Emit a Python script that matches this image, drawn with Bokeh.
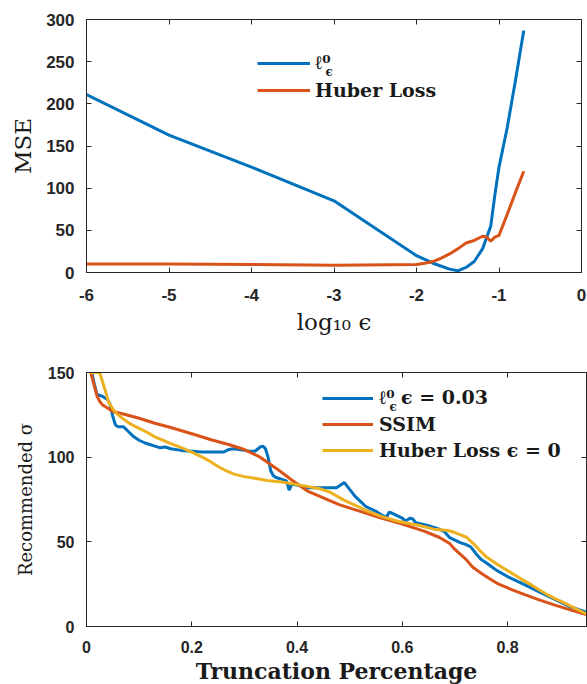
from bokeh.plotting import figure
from bokeh.layouts import column
from bokeh.models import (LinearAxis, SingleIntervalTicker, Range1d, Legend,
                          LegendItem, Label, CustomJSTickFormatter)
from bokeh.embed import file_html
from bokeh.resources import INLINE

# ---------------- data: top panel ----------------
l0_x = [-6, -5, -4, -3, -2, -1.8, -1.6, -1.5, -1.4, -1.3, -1.2, -1.1, -1.05, -1.0, -0.9, -0.8, -0.7]
l0_y = [211, 163, 125, 85, 20, 11, 4, 2, 6, 13, 28, 55, 92, 125, 172, 228, 287]

huber_x = [-6, -5, -4, -3, -2, -1.9, -1.8, -1.7, -1.6, -1.5, -1.4, -1.3, -1.2, -1.15, -1.1, -1.05, -1.0, -0.9, -0.8, -0.7]
huber_y = [10, 10, 9.5, 8.5, 9.5, 11, 13, 17, 22, 28, 35, 38, 43, 42, 37, 42, 44, 69, 95, 120]

# ---------------- data: bottom panel ----------------
b_x = [0.01, 0.015, 0.02, 0.03, 0.04, 0.045, 0.05, 0.055, 0.06, 0.07, 0.08, 0.09, 0.1, 0.11,
       0.12, 0.13, 0.14, 0.15, 0.16, 0.18, 0.2, 0.22, 0.24, 0.26, 0.27, 0.28, 0.3, 0.31, 0.32,
       0.33, 0.335, 0.34, 0.345, 0.35, 0.355, 0.36, 0.37, 0.38, 0.385, 0.39, 0.4, 0.42, 0.44,
       0.46, 0.475, 0.485, 0.49, 0.5, 0.51, 0.52, 0.53, 0.54, 0.55, 0.56, 0.57, 0.575, 0.58,
       0.59, 0.6, 0.605, 0.61, 0.615, 0.62, 0.625, 0.63, 0.65, 0.67, 0.68, 0.69, 0.7, 0.71,
       0.72, 0.73, 0.74, 0.75, 0.76, 0.78, 0.8, 0.82, 0.84, 0.86, 0.88, 0.9, 0.92, 0.94, 0.95]
b_y = [150, 143, 137, 136, 134, 131, 124, 119, 118, 118, 115, 112, 110, 108.5,
       107.5, 106.5, 105.5, 106, 105, 104, 103.5, 103, 103, 103, 104.5, 105, 104, 103.5, 103.5,
       106, 106.5, 105, 100, 92, 89, 88, 87, 86, 80.5, 84, 83.5, 82, 82,
       82, 82, 84, 85, 81, 77, 74, 71, 69.5, 68, 66, 64.5, 67.5, 67,
       65.5, 64, 62.5, 63, 64, 63.5, 61.5, 61, 59.5, 57.5, 56, 52.5, 51, 49.5,
       48.5, 47, 43, 39.5, 37.5, 33, 29.5, 26.5, 23.5, 20.5, 17.5, 14.5, 11.5, 9.5, 8.5]

s_x = [0.008, 0.015, 0.02, 0.025, 0.03, 0.04, 0.05, 0.07, 0.1, 0.13, 0.16, 0.2, 0.24, 0.27,
       0.3, 0.33, 0.36, 0.39, 0.42, 0.45, 0.48, 0.52, 0.56, 0.6, 0.64, 0.67, 0.69, 0.7, 0.72,
       0.734, 0.75, 0.766, 0.78, 0.797, 0.81, 0.829, 0.86, 0.89, 0.924, 0.95]
s_y = [150, 142, 136, 133, 131, 129, 127, 125.5, 123, 120, 117.5, 113.8, 110, 107.5,
       104.5, 100, 93.5, 86.5, 80, 76, 72, 68, 64, 60.5, 56.5, 52.7, 49, 45.5, 40,
       35, 31.5, 28.2, 25.5, 23.2, 21.5, 19.3, 15.7, 12.6, 9.4, 7]

h_x = [0.005, 0.025, 0.03, 0.035, 0.042, 0.05, 0.058, 0.07, 0.083, 0.1, 0.115, 0.13, 0.147,
       0.16, 0.178, 0.2, 0.22, 0.235, 0.25, 0.265, 0.28, 0.3, 0.32, 0.343, 0.374, 0.406,
       0.444, 0.463, 0.49, 0.515, 0.538, 0.56, 0.586, 0.61, 0.633, 0.66, 0.687, 0.7, 0.722,
       0.735, 0.747, 0.76, 0.779, 0.795, 0.81, 0.826, 0.842, 0.858, 0.873, 0.89, 0.905, 0.92,
       0.937, 0.95]
h_y = [150, 150, 145, 140, 132.5, 128.5, 125.6, 122.5, 119.7, 117, 114.7, 112, 109.8,
       108, 105.9, 103, 100, 97.5, 94.5, 92, 90, 88.5, 87.5, 86.2, 85.2, 83.5,
       81.3, 79.3, 74.5, 71, 67.5, 65, 62.6, 61, 59.6, 57.5, 56.7, 55.5, 52.7,
       49, 45, 41, 37, 34, 31.1, 28, 25.2, 22, 19.3, 16.5, 14.4, 12,
       9.4, 7.5]

BLUE = "#0072BD"
ORANGE = "#D95319"
YELLOW = "#EDB120"
AX = "#262626"
TXT = "#1a1a1a"


def style_axis(ax, size, standoff):
    ax.axis_line_color = AX
    ax.major_tick_line_color = AX
    ax.major_tick_in = 5
    ax.major_tick_out = 0
    ax.minor_tick_line_color = None
    ax.major_label_text_font = "Liberation Sans"
    ax.major_label_text_font_style = "bold"
    ax.major_label_text_font_size = size
    ax.major_label_text_color = AX
    ax.major_label_standoff = standoff


def add_box_axes(p, xtick, ytick):
    for tick, side in ((xtick, "above"), (ytick, "right")):
        ax = LinearAxis(ticker=tick, major_label_text_font_size="1px",
                        major_label_text_color=None, major_label_standoff=0,
                        major_tick_in=5, major_tick_out=0,
                        minor_tick_line_color=None, axis_line_color=AX,
                        major_tick_line_color=AX)
        p.add_layout(ax, side)


# ---------------- top figure ----------------
p1 = figure(frame_width=495, frame_height=253, x_range=Range1d(-6, 0), y_range=Range1d(0, 300),
            output_backend="svg", toolbar_location=None,
            min_border_left=86, min_border_right=6, min_border_top=19, min_border_bottom=68)
p1.grid.visible = False
p1.outline_line_color = AX
p1.xaxis.ticker = SingleIntervalTicker(interval=1)
p1.yaxis.ticker = SingleIntervalTicker(interval=50)
p1.xaxis.formatter = CustomJSTickFormatter(code="return tick.toFixed(0);")
p1.yaxis.formatter = CustomJSTickFormatter(code="return tick.toFixed(0);")
style_axis(p1.xaxis[0], "17px", 12)
style_axis(p1.yaxis[0], "17px", 8)
p1.xaxis.axis_label = "log₁₀ ϵ"
p1.xaxis.axis_label_text_font = "DejaVu Serif"
p1.xaxis.axis_label_text_font_style = "normal"
p1.xaxis.axis_label_text_font_size = "23px"
p1.xaxis.axis_label_text_color = TXT
p1.xaxis.axis_label_standoff = 5
p1.yaxis.axis_label = "MSE"
p1.yaxis.axis_label_text_font = "DejaVu Serif"
p1.yaxis.axis_label_text_font_style = "normal"
p1.yaxis.axis_label_text_font_size = "23px"
p1.yaxis.axis_label_text_color = TXT
p1.yaxis.axis_label_standoff = 7
add_box_axes(p1, SingleIntervalTicker(interval=1), SingleIntervalTicker(interval=50))

r1 = p1.line(l0_x, l0_y, line_width=3, color=BLUE)
r2 = p1.line(huber_x, huber_y, line_width=3, color=ORANGE)

leg1 = Legend(items=[LegendItem(label="ℓ⁰", renderers=[r1]),
                     LegendItem(label="Huber Loss", renderers=[r2])],
              location=(171, 171), label_text_font="DejaVu Serif",
              label_text_font_style="bold", label_text_font_size="19px",
              label_text_color=TXT, glyph_width=53, glyph_height=20, label_height=20,
              label_standoff=5, spacing=5, padding=0, margin=0,
              border_line_alpha=0, background_fill_alpha=0)
p1.add_layout(leg1)
p1.add_layout(Label(x=239, y=201, x_units="screen", y_units="screen", text="ϵ",
                    text_font="DejaVu Serif", text_font_style="bold",
                    text_font_size="12px", text_color=TXT, text_baseline="alphabetic"))

# ---------------- bottom figure ----------------
p2 = figure(frame_width=500, frame_height=254, x_range=Range1d(0, 0.95), y_range=Range1d(0, 150),
            output_backend="svg", toolbar_location=None,
            min_border_left=86, min_border_right=1, min_border_top=32, min_border_bottom=58)
p2.grid.visible = False
p2.outline_line_color = AX
p2.xaxis.ticker = SingleIntervalTicker(interval=0.2)
p2.yaxis.ticker = SingleIntervalTicker(interval=50)
p2.xaxis.formatter = CustomJSTickFormatter(code="return (Math.round(tick*10)/10).toString();")
p2.yaxis.formatter = CustomJSTickFormatter(code="return tick.toFixed(0);")
style_axis(p2.xaxis[0], "16px", 10)
style_axis(p2.yaxis[0], "16px", 8)
p2.xaxis.axis_label = "Truncation Percentage"
p2.xaxis.axis_label_text_font = "DejaVu Serif"
p2.xaxis.axis_label_text_font_style = "bold"
p2.xaxis.axis_label_text_font_size = "22px"
p2.xaxis.axis_label_text_color = TXT
p2.xaxis.axis_label_standoff = 2
p2.yaxis.axis_label = "Recommended σ"
p2.yaxis.axis_label_text_font = "DejaVu Serif"
p2.yaxis.axis_label_text_font_style = "normal"
p2.yaxis.axis_label_text_font_size = "18px"
p2.yaxis.axis_label_text_color = TXT
p2.yaxis.axis_label_standoff = 9
add_box_axes(p2, SingleIntervalTicker(interval=0.2), SingleIntervalTicker(interval=50))

q1 = p2.line(b_x, b_y, line_width=3, color=BLUE)
q2 = p2.line(s_x, s_y, line_width=3, color=ORANGE)
q3 = p2.line(h_x, h_y, line_width=3, color=YELLOW)

leg2 = Legend(items=[LegendItem(label="ℓ⁰ ϵ = 0.03", renderers=[q1]),
                     LegendItem(label="SSIM", renderers=[q2]),
                     LegendItem(label="Huber Loss ϵ = 0", renderers=[q3])],
              location=(236, 165), label_text_font="DejaVu Serif",
              label_text_font_style="bold", label_text_font_size="19px",
              label_text_color=TXT, glyph_width=51, glyph_height=20, label_height=20,
              label_standoff=6, spacing=4, padding=0, margin=0,
              border_line_alpha=0, background_fill_alpha=0)
p2.add_layout(leg2)
p2.add_layout(Label(x=303, y=220, x_units="screen", y_units="screen", text="ϵ",
                    text_font="DejaVu Serif", text_font_style="bold",
                    text_font_size="12px", text_color=TXT, text_baseline="alphabetic"))

layout = column(p1, p2, spacing=0)
open("out.html", "w").write(file_html(layout, INLINE))
